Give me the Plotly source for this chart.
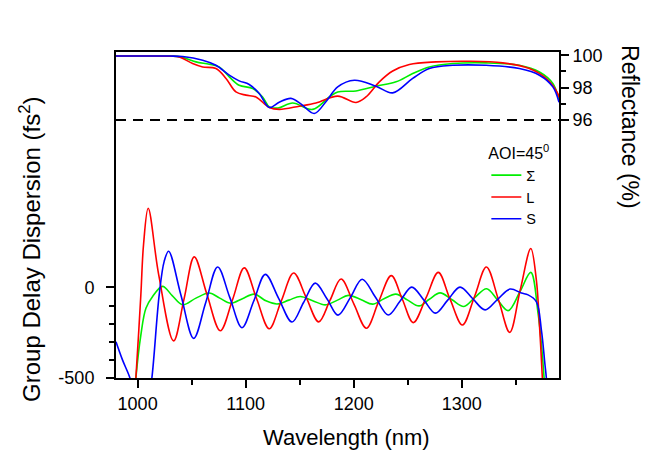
import plotly.graph_objects as go

# ---------------- data ----------------
# Group delay dispersion (fs^2), bottom panel
wl_gdd_sigma = [996, 998.4, 1003, 1007.7, 1013.9, 1023.1, 1032, 1041.7, 1054, 1066.3, 1076, 1086.4,
                1097, 1108, 1118.8, 1129, 1140, 1150.6, 1162, 1173.7, 1185, 1195, 1207, 1217.5,
                1228, 1239, 1250, 1260.5, 1270, 1280, 1291, 1302, 1312, 1323, 1333, 1343, 1354,
                1363.9, 1370.6, 1374, 1376.2, 1378]
gdd_sigma = [-700, -500, -263, -115, -50, 6, -45, -96, -59, -31, -59, -87,
             -62, -37, -74, -91, -70, -50, -73, -96, -70, -44, -68, -92,
             -63, -37, -70, -102, -65, -30, -68, -105, -56, -7, -68, -128, -22,
             83, -142, -330, -500, -650]

wl_gdd_L = [996, 998.4, 1003, 1005.5, 1009.8, 1019.5, 1033.3, 1043, 1052.4, 1064, 1076.5, 1088,
            1098.7, 1110, 1121.8, 1133, 1144.4, 1156, 1167.6, 1178, 1188.3, 1200, 1211.7, 1223,
            1234.8, 1245, 1255.1, 1267, 1278.3, 1289, 1300.6, 1312, 1322.8, 1334, 1344.4, 1354,
            1363.9, 1369, 1372.2, 1374.6, 1376]
gdd_L = [-700, -500, -40, 237, 437, 71, -295, -63, 169, -35, -239, -65,
         108, -60, -228, -74, 80, -55, -190, -72, 47, -89, -225, -80,
         65, -65, -194, -56, 83, -62, -207, -47, 113, -68, -248, -17,
         215, 43, -235, -500, -650]

wl_gdd_S = [980, 986, 992.9, 996, 1003, 1010, 1013.2, 1020, 1024.6, 1028.7, 1040, 1051.9, 1063,
            1074.1, 1085.3, 1096.6, 1107.5, 1118.2, 1130.5, 1142.9, 1153.6, 1164.4, 1175.5,
            1185.5, 1197, 1207.8, 1220, 1231.9, 1243, 1253.7, 1265, 1275.6, 1287, 1298.4, 1310,
            1321.6, 1333, 1344.7, 1355.2, 1361.4, 1369, 1373.7, 1376.9, 1378.3, 1380]
gdd_S = [-300, -400, -500, -580, -700, -620, -500, -40, 144, 200, -40, -281, -84,
         113, -55, -222, -75, 72, -60, -191, -83, 24, -65,
         -153, -55, 45, -53, -152, -75, 2, -70, -142, -70, 2, -61,
         -124, -67, -9, -31, -41, -78, -235, -420, -500, -650]

# Reflectance (%), top panel
wl_R_sigma = [980, 1000, 1030, 1040, 1054, 1066.3, 1075.5, 1084.8, 1094, 1106.5, 1115.7, 1121.9,
              1130, 1143.5, 1162, 1177.4, 1185.2, 1202.1, 1220.6, 1239.2, 1254.6, 1270, 1291.7,
              1322.5, 1353.3, 1371.9, 1384.3, 1390]
R_sigma = [99.95, 99.95, 99.95, 99.9, 99.59, 99.45, 99.28, 98.67, 98.15, 97.95, 97.43, 96.82,
           96.75, 97.06, 96.66, 97.43, 97.74, 97.8, 98.09, 98.36, 98.87, 99.28, 99.49,
           99.53, 99.38, 98.97, 98.26, 97.25]

wl_R_L = [980, 1000, 1030, 1038.5, 1050.9, 1060.2, 1072.5, 1081.8, 1091, 1100.3, 1109.5, 1121.9,
          1131.1, 1149.6, 1165.1, 1185.2, 1202.1, 1211.4, 1223.7, 1236.1, 1251.5, 1276.2, 1307,
          1338, 1362.6, 1378, 1388.9, 1390]
R_L = [99.95, 99.95, 99.94, 99.9, 99.49, 99.28, 99.18, 98.57, 97.74, 97.54, 97.43, 96.78,
       96.66, 96.86, 97.06, 97.48, 97.09, 97.43, 98.36, 99.03, 99.43, 99.59, 99.63,
       99.53, 99.18, 98.57, 97.64, 97.4]

wl_R_S = [980, 1000, 1030, 1041.7, 1060.2, 1072.5, 1084.8, 1094, 1103.3, 1112.6, 1121.9, 1131,
          1141.9, 1152, 1163.5, 1175, 1185.2, 1200.6, 1220.6, 1236.1, 1254.6, 1270, 1291.7,
          1322.5, 1353.3, 1371.9, 1384.3, 1390]
R_S = [99.95, 99.95, 99.95, 99.92, 99.69, 99.38, 98.77, 98.42, 98.2, 97.64, 96.78, 97.1,
       97.34, 96.95, 96.41, 97.2, 98.05, 98.46, 98.09, 97.68, 98.57, 99.18, 99.38,
       99.38, 99.18, 98.77, 98.05, 97.1]

series_names = ["Σ", "L", "S"]
ref_level = 96  # dashed reference reflectance level (%)

x_ticks = [1000, 1100, 1200, 1300]
x_minor = [1050, 1150, 1250, 1350]
gdd_ticks = [-500, 0]
gdd_minor = [-400, -300, -200, -100]
R_ticks = [96, 98, 100]
R_minor = [97, 99]

# ---------------- figure ----------------
FONT = "Liberation Sans, Arial, sans-serif"
colors = {"Σ": "#00ee00", "L": "#ff0000", "S": "#0000ff"}

fig = go.Figure()

gdd_data = {"Σ": (wl_gdd_sigma, gdd_sigma), "L": (wl_gdd_L, gdd_L), "S": (wl_gdd_S, gdd_S)}
R_data = {"Σ": (wl_R_sigma, R_sigma), "L": (wl_R_L, R_L), "S": (wl_R_S, R_S)}

for name in series_names:
    x, y = R_data[name]
    fig.add_trace(go.Scatter(x=x, y=y, mode="lines", yaxis="y2", name=name,
                             legendgroup=name, showlegend=False,
                             line=dict(color=colors[name], width=1.6, shape="spline", smoothing=1.0)))
for name in series_names:
    x, y = gdd_data[name]
    fig.add_trace(go.Scatter(x=x, y=y, mode="lines", yaxis="y", name=name,
                             legendgroup=name, showlegend=True,
                             line=dict(color=colors[name], width=1.6, shape="spline", smoothing=1.0)))

fig.add_shape(type="line", xref="paper", x0=0, x1=1, yref="y2", y0=ref_level, y1=ref_level,
              line=dict(color="black", width=2, dash="10px,7px"))

axis_common = dict(showgrid=False, zeroline=False, showline=True, linecolor="black", linewidth=2,
                   ticks="outside", ticklen=8, tickwidth=1.5, tickcolor="black",
                   tickfont=dict(family=FONT, size=18, color="black"))

# page body has an 8px margin, so the figure is 8px smaller and margins shifted
fig.update_layout(
    width=642, height=446,
    margin=dict(l=108, r=91, t=44, b=76),
    paper_bgcolor="white", plot_bgcolor="white",
    font=dict(family=FONT, color="black"),
    xaxis=dict(range=[980, 1390], tickvals=x_ticks, mirror=True,
               minor=dict(tickvals=x_minor, ticks="outside", ticklen=5, tickwidth=1.5, tickcolor="black"),
               **axis_common),
    yaxis=dict(range=[-500, 1300], tickvals=gdd_ticks, ticktext=["-500", "0"], ticklabelstandoff=8,
               minor=dict(tickvals=gdd_minor, ticks="outside", ticklen=5, tickwidth=1.5, tickcolor="black"),
               **axis_common),
    yaxis2=dict(range=[80.1, 100.2], tickvals=R_ticks, overlaying="y", side="right",
                minor=dict(tickvals=R_minor, ticks="outside", ticklen=5, tickwidth=1.5, tickcolor="black"),
                **axis_common),
    showlegend=True,
    legend=dict(x=0.836, y=0.735, xanchor="left", yanchor="top", bgcolor="rgba(0,0,0,0)",
                font=dict(family=FONT, size=14.5, color="black"),
                title=dict(text="AOI=45<sup>0</sup>", font=dict(family=FONT, size=16, color="black")),
                tracegroupgap=0),
    annotations=[
        dict(text="Group Delay Dispersion (fs<sup>2</sup>)", xref="paper", yref="paper",
             x=-0.194, y=0.393, textangle=-90, showarrow=False, xanchor="center", yanchor="middle",
             font=dict(family=FONT, size=24, color="black")),
        dict(text="Reflectance (%)", xref="paper", yref="paper",
             x=1.160, y=0.770, textangle=90, showarrow=False, xanchor="center", yanchor="middle",
             font=dict(family=FONT, size=23, color="black")),
        dict(text="Wavelength (nm)", xref="paper", yref="paper",
             x=0.521, y=-0.181, showarrow=False, xanchor="center", yanchor="middle",
             font=dict(family=FONT, size=22, color="black")),
    ],
)

fig.write_html("out.html")
